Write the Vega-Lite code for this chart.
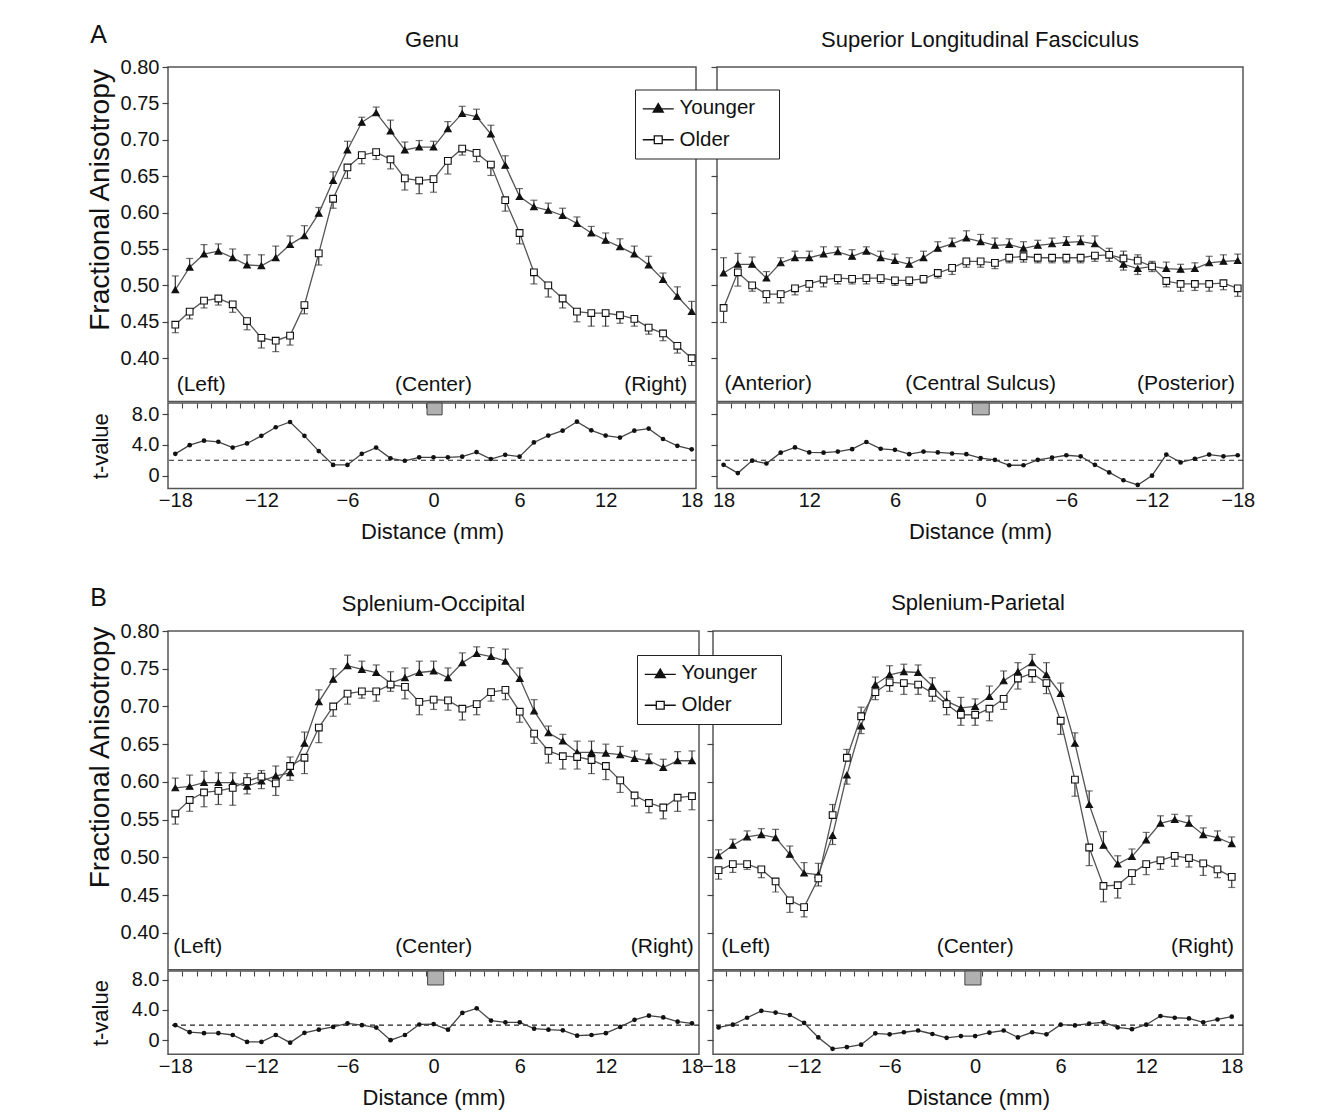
{
"$schema": "https://vega.github.io/schema/vega-lite/v6.json",
"background": "white",
"padding": {"left": 85, "top": 22, "right": 5, "bottom": 5},
"config": {
 "font": "Liberation Sans",
 "view": {"stroke": "#555", "strokeWidth": 1.5},
 "axis": {"domain": false, "grid": false, "labelFont": "Liberation Sans", "labelFontSize": 20, "labelColor": "#111", "titleFont": "Liberation Sans", "titleFontSize": 22, "titleFontWeight": "normal", "titleColor": "#111", "tickColor": "#444", "tickWidth": 1.2, "tickSize": 6, "labelOverlap": false},
 "title": {"font": "Liberation Sans", "fontSize": 22, "fontWeight": "normal", "color": "#111"},
 "legend": {"labelFont": "Liberation Sans"}
},
"datasets": {
"G": [
{"g":"Younger","d":-18,"v":0.494,"e":0.513},{"g":"Younger","d":-17,"v":0.525,"e":0.537},{"g":"Younger","d":-16,"v":0.543,"e":0.556},{"g":"Younger","d":-15,"v":0.547,"e":0.557},{"g":"Younger","d":-14,"v":0.538,"e":0.550},{"g":"Younger","d":-13,"v":0.528,"e":0.542},{"g":"Younger","d":-12,"v":0.527,"e":0.542},{"g":"Younger","d":-11,"v":0.538,"e":0.554},{"g":"Younger","d":-10,"v":0.556,"e":0.568},{"g":"Younger","d":-9,"v":0.568,"e":0.582},{"g":"Younger","d":-8,"v":0.599,"e":0.607},{"g":"Younger","d":-7,"v":0.644,"e":0.656},{"g":"Younger","d":-6,"v":0.686,"e":0.698},{"g":"Younger","d":-5,"v":0.724,"e":0.731},{"g":"Younger","d":-4,"v":0.737,"e":0.745},{"g":"Younger","d":-3,"v":0.712,"e":0.727},{"g":"Younger","d":-2,"v":0.686,"e":0.697},{"g":"Younger","d":-1,"v":0.690,"e":0.699},{"g":"Younger","d":0,"v":0.690,"e":0.698},{"g":"Younger","d":1,"v":0.715,"e":0.725},{"g":"Younger","d":2,"v":0.736,"e":0.746},{"g":"Younger","d":3,"v":0.732,"e":0.742},{"g":"Younger","d":4,"v":0.708,"e":0.720},{"g":"Younger","d":5,"v":0.665,"e":0.678},{"g":"Younger","d":6,"v":0.622,"e":0.633},{"g":"Younger","d":7,"v":0.608,"e":0.617},{"g":"Younger","d":8,"v":0.603,"e":0.613},{"g":"Younger","d":9,"v":0.596,"e":0.606},{"g":"Younger","d":10,"v":0.585,"e":0.594},{"g":"Younger","d":11,"v":0.572,"e":0.581},{"g":"Younger","d":12,"v":0.562,"e":0.572},{"g":"Younger","d":13,"v":0.553,"e":0.564},{"g":"Younger","d":14,"v":0.543,"e":0.554},{"g":"Younger","d":15,"v":0.528,"e":0.540},{"g":"Younger","d":16,"v":0.508,"e":0.517},{"g":"Younger","d":17,"v":0.485,"e":0.498},{"g":"Younger","d":18,"v":0.464,"e":0.478},
{"g":"Older","d":-18,"v":0.446,"e":0.435},{"g":"Older","d":-17,"v":0.464,"e":0.454},{"g":"Older","d":-16,"v":0.479,"e":0.469},{"g":"Older","d":-15,"v":0.482,"e":0.473},{"g":"Older","d":-14,"v":0.474,"e":0.463},{"g":"Older","d":-13,"v":0.451,"e":0.439},{"g":"Older","d":-12,"v":0.428,"e":0.414},{"g":"Older","d":-11,"v":0.424,"e":0.409},{"g":"Older","d":-10,"v":0.431,"e":0.418},{"g":"Older","d":-9,"v":0.473,"e":0.461},{"g":"Older","d":-8,"v":0.544,"e":0.528},{"g":"Older","d":-7,"v":0.619,"e":0.606},{"g":"Older","d":-6,"v":0.662,"e":0.647},{"g":"Older","d":-5,"v":0.679,"e":0.667},{"g":"Older","d":-4,"v":0.683,"e":0.673},{"g":"Older","d":-3,"v":0.673,"e":0.660},{"g":"Older","d":-2,"v":0.647,"e":0.631},{"g":"Older","d":-1,"v":0.644,"e":0.626},{"g":"Older","d":0,"v":0.646,"e":0.628},{"g":"Older","d":1,"v":0.671,"e":0.653},{"g":"Older","d":2,"v":0.688,"e":0.679},{"g":"Older","d":3,"v":0.682,"e":0.670},{"g":"Older","d":4,"v":0.666,"e":0.651},{"g":"Older","d":5,"v":0.617,"e":0.602},{"g":"Older","d":6,"v":0.572,"e":0.557},{"g":"Older","d":7,"v":0.518,"e":0.502},{"g":"Older","d":8,"v":0.500,"e":0.484},{"g":"Older","d":9,"v":0.482,"e":0.469},{"g":"Older","d":10,"v":0.464,"e":0.450},{"g":"Older","d":11,"v":0.462,"e":0.444},{"g":"Older","d":12,"v":0.462,"e":0.444},{"g":"Older","d":13,"v":0.459,"e":0.448},{"g":"Older","d":14,"v":0.454,"e":0.444},{"g":"Older","d":15,"v":0.442,"e":0.433},{"g":"Older","d":16,"v":0.434,"e":0.424},{"g":"Older","d":17,"v":0.417,"e":0.407},{"g":"Older","d":18,"v":0.400,"e":0.390}
],
"S": [
{"g":"Younger","d":18,"v":0.517,"e":0.538},{"g":"Younger","d":17,"v":0.529,"e":0.544},{"g":"Younger","d":16,"v":0.529,"e":0.539},{"g":"Younger","d":15,"v":0.510,"e":0.519},{"g":"Younger","d":14,"v":0.531,"e":0.538},{"g":"Younger","d":13,"v":0.538,"e":0.547},{"g":"Younger","d":12,"v":0.538,"e":0.547},{"g":"Younger","d":11,"v":0.543,"e":0.553},{"g":"Younger","d":10,"v":0.546,"e":0.553},{"g":"Younger","d":9,"v":0.540,"e":0.549},{"g":"Younger","d":8,"v":0.547,"e":0.553},{"g":"Younger","d":7,"v":0.538,"e":0.547},{"g":"Younger","d":6,"v":0.534,"e":0.543},{"g":"Younger","d":5,"v":0.529,"e":0.538},{"g":"Younger","d":4,"v":0.538,"e":0.547},{"g":"Younger","d":3,"v":0.551,"e":0.560},{"g":"Younger","d":2,"v":0.557,"e":0.565},{"g":"Younger","d":1,"v":0.565,"e":0.575},{"g":"Younger","d":0,"v":0.560,"e":0.570},{"g":"Younger","d":-1,"v":0.555,"e":0.565},{"g":"Younger","d":-2,"v":0.556,"e":0.564},{"g":"Younger","d":-3,"v":0.551,"e":0.560},{"g":"Younger","d":-4,"v":0.555,"e":0.562},{"g":"Younger","d":-5,"v":0.557,"e":0.565},{"g":"Younger","d":-6,"v":0.559,"e":0.567},{"g":"Younger","d":-7,"v":0.560,"e":0.568},{"g":"Younger","d":-8,"v":0.557,"e":0.568},{"g":"Younger","d":-9,"v":0.543,"e":0.551},{"g":"Younger","d":-10,"v":0.529,"e":0.521},{"g":"Younger","d":-11,"v":0.523,"e":0.515},{"g":"Younger","d":-12,"v":0.526,"e":0.533},{"g":"Younger","d":-13,"v":0.523,"e":0.532},{"g":"Younger","d":-14,"v":0.522,"e":0.529},{"g":"Younger","d":-15,"v":0.523,"e":0.531},{"g":"Younger","d":-16,"v":0.531,"e":0.540},{"g":"Younger","d":-17,"v":0.533,"e":0.542},{"g":"Younger","d":-18,"v":0.534,"e":0.543},
{"g":"Older","d":18,"v":0.469,"e":0.449},{"g":"Older","d":17,"v":0.518,"e":0.499},{"g":"Older","d":16,"v":0.500,"e":0.492},{"g":"Older","d":15,"v":0.488,"e":0.476},{"g":"Older","d":14,"v":0.488,"e":0.476},{"g":"Older","d":13,"v":0.496,"e":0.487},{"g":"Older","d":12,"v":0.502,"e":0.492},{"g":"Older","d":11,"v":0.508,"e":0.498},{"g":"Older","d":10,"v":0.510,"e":0.502},{"g":"Older","d":9,"v":0.509,"e":0.502},{"g":"Older","d":8,"v":0.510,"e":0.502},{"g":"Older","d":7,"v":0.510,"e":0.503},{"g":"Older","d":6,"v":0.507,"e":0.500},{"g":"Older","d":5,"v":0.507,"e":0.500},{"g":"Older","d":4,"v":0.509,"e":0.503},{"g":"Older","d":3,"v":0.517,"e":0.510},{"g":"Older","d":2,"v":0.524,"e":0.515},{"g":"Older","d":1,"v":0.533,"e":0.525},{"g":"Older","d":0,"v":0.533,"e":0.525},{"g":"Older","d":-1,"v":0.531,"e":0.523},{"g":"Older","d":-2,"v":0.538,"e":0.531},{"g":"Older","d":-3,"v":0.540,"e":0.532},{"g":"Older","d":-4,"v":0.538,"e":0.531},{"g":"Older","d":-5,"v":0.538,"e":0.531},{"g":"Older","d":-6,"v":0.538,"e":0.531},{"g":"Older","d":-7,"v":0.538,"e":0.531},{"g":"Older","d":-8,"v":0.541,"e":0.533},{"g":"Older","d":-9,"v":0.542,"e":0.533},{"g":"Older","d":-10,"v":0.537,"e":0.547},{"g":"Older","d":-11,"v":0.534,"e":0.542},{"g":"Older","d":-12,"v":0.526,"e":0.519},{"g":"Older","d":-13,"v":0.506,"e":0.498},{"g":"Older","d":-14,"v":0.502,"e":0.492},{"g":"Older","d":-15,"v":0.502,"e":0.493},{"g":"Older","d":-16,"v":0.502,"e":0.492},{"g":"Older","d":-17,"v":0.503,"e":0.494},{"g":"Older","d":-18,"v":0.496,"e":0.485}
],
"O": [
{"g":"Younger","d":-18,"v":0.592,"e":0.605},{"g":"Younger","d":-17,"v":0.594,"e":0.609},{"g":"Younger","d":-16,"v":0.599,"e":0.614},{"g":"Younger","d":-15,"v":0.599,"e":0.612},{"g":"Younger","d":-14,"v":0.599,"e":0.612},{"g":"Younger","d":-13,"v":0.594,"e":0.584},{"g":"Younger","d":-12,"v":0.601,"e":0.591},{"g":"Younger","d":-11,"v":0.608,"e":0.621},{"g":"Younger","d":-10,"v":0.612,"e":0.602},{"g":"Younger","d":-9,"v":0.651,"e":0.666},{"g":"Younger","d":-8,"v":0.706,"e":0.722},{"g":"Younger","d":-7,"v":0.736,"e":0.750},{"g":"Younger","d":-6,"v":0.754,"e":0.768},{"g":"Younger","d":-5,"v":0.749,"e":0.760},{"g":"Younger","d":-4,"v":0.745,"e":0.755},{"g":"Younger","d":-3,"v":0.731,"e":0.746},{"g":"Younger","d":-2,"v":0.738,"e":0.751},{"g":"Younger","d":-1,"v":0.745,"e":0.760},{"g":"Younger","d":0,"v":0.747,"e":0.760},{"g":"Younger","d":1,"v":0.738,"e":0.751},{"g":"Younger","d":2,"v":0.758,"e":0.771},{"g":"Younger","d":3,"v":0.770,"e":0.779},{"g":"Younger","d":4,"v":0.766,"e":0.778},{"g":"Younger","d":5,"v":0.760,"e":0.776},{"g":"Younger","d":6,"v":0.737,"e":0.751},{"g":"Younger","d":7,"v":0.694,"e":0.709},{"g":"Younger","d":8,"v":0.665,"e":0.674},{"g":"Younger","d":9,"v":0.654,"e":0.663},{"g":"Younger","d":10,"v":0.639,"e":0.654},{"g":"Younger","d":11,"v":0.639,"e":0.654},{"g":"Younger","d":12,"v":0.638,"e":0.650},{"g":"Younger","d":13,"v":0.636,"e":0.647},{"g":"Younger","d":14,"v":0.631,"e":0.641},{"g":"Younger","d":15,"v":0.628,"e":0.637},{"g":"Younger","d":16,"v":0.619,"e":0.630},{"g":"Younger","d":17,"v":0.628,"e":0.640},{"g":"Younger","d":18,"v":0.628,"e":0.641},
{"g":"Older","d":-18,"v":0.558,"e":0.544},{"g":"Older","d":-17,"v":0.576,"e":0.561},{"g":"Older","d":-16,"v":0.586,"e":0.567},{"g":"Older","d":-15,"v":0.588,"e":0.570},{"g":"Older","d":-14,"v":0.592,"e":0.569},{"g":"Older","d":-13,"v":0.601,"e":0.611},{"g":"Older","d":-12,"v":0.607,"e":0.615},{"g":"Older","d":-11,"v":0.598,"e":0.582},{"g":"Older","d":-10,"v":0.621,"e":0.633},{"g":"Older","d":-9,"v":0.632,"e":0.611},{"g":"Older","d":-8,"v":0.672,"e":0.652},{"g":"Older","d":-7,"v":0.700,"e":0.687},{"g":"Older","d":-6,"v":0.717,"e":0.703},{"g":"Older","d":-5,"v":0.720,"e":0.711},{"g":"Older","d":-4,"v":0.720,"e":0.707},{"g":"Older","d":-3,"v":0.729,"e":0.720},{"g":"Older","d":-2,"v":0.726,"e":0.710},{"g":"Older","d":-1,"v":0.706,"e":0.689},{"g":"Older","d":0,"v":0.709,"e":0.696},{"g":"Older","d":1,"v":0.708,"e":0.695},{"g":"Older","d":2,"v":0.697,"e":0.682},{"g":"Older","d":3,"v":0.703,"e":0.689},{"g":"Older","d":4,"v":0.719,"e":0.707},{"g":"Older","d":5,"v":0.722,"e":0.709},{"g":"Older","d":6,"v":0.693,"e":0.679},{"g":"Older","d":7,"v":0.664,"e":0.651},{"g":"Older","d":8,"v":0.641,"e":0.625},{"g":"Older","d":9,"v":0.634,"e":0.617},{"g":"Older","d":10,"v":0.633,"e":0.617},{"g":"Older","d":11,"v":0.629,"e":0.611},{"g":"Older","d":12,"v":0.621,"e":0.603},{"g":"Older","d":13,"v":0.602,"e":0.586},{"g":"Older","d":14,"v":0.582,"e":0.568},{"g":"Older","d":15,"v":0.572,"e":0.559},{"g":"Older","d":16,"v":0.566,"e":0.551},{"g":"Older","d":17,"v":0.579,"e":0.561},{"g":"Older","d":18,"v":0.581,"e":0.563}
],
"P": [
{"g":"Younger","d":-18,"v":0.502,"e":0.510},{"g":"Younger","d":-17,"v":0.516,"e":0.524},{"g":"Younger","d":-16,"v":0.527,"e":0.535},{"g":"Younger","d":-15,"v":0.530,"e":0.538},{"g":"Younger","d":-14,"v":0.526,"e":0.537},{"g":"Younger","d":-13,"v":0.504,"e":0.515},{"g":"Younger","d":-12,"v":0.479,"e":0.493},{"g":"Younger","d":-11,"v":0.477,"e":0.492},{"g":"Younger","d":-10,"v":0.529,"e":0.517},{"g":"Younger","d":-9,"v":0.609,"e":0.597},{"g":"Younger","d":-8,"v":0.674,"e":0.664},{"g":"Younger","d":-7,"v":0.729,"e":0.739},{"g":"Younger","d":-6,"v":0.742,"e":0.754},{"g":"Younger","d":-5,"v":0.746,"e":0.756},{"g":"Younger","d":-4,"v":0.745,"e":0.755},{"g":"Younger","d":-3,"v":0.727,"e":0.738},{"g":"Younger","d":-2,"v":0.707,"e":0.720},{"g":"Younger","d":-1,"v":0.698,"e":0.712},{"g":"Younger","d":0,"v":0.700,"e":0.710},{"g":"Younger","d":1,"v":0.713,"e":0.727},{"g":"Younger","d":2,"v":0.734,"e":0.747},{"g":"Younger","d":3,"v":0.746,"e":0.758},{"g":"Younger","d":4,"v":0.758,"e":0.769},{"g":"Younger","d":5,"v":0.742,"e":0.758},{"g":"Younger","d":6,"v":0.717,"e":0.731},{"g":"Younger","d":7,"v":0.651,"e":0.665},{"g":"Younger","d":8,"v":0.570,"e":0.588},{"g":"Younger","d":9,"v":0.516,"e":0.534},{"g":"Younger","d":10,"v":0.491,"e":0.502},{"g":"Younger","d":11,"v":0.501,"e":0.511},{"g":"Younger","d":12,"v":0.523,"e":0.533},{"g":"Younger","d":13,"v":0.545,"e":0.555},{"g":"Younger","d":14,"v":0.550,"e":0.557},{"g":"Younger","d":15,"v":0.545,"e":0.555},{"g":"Younger","d":16,"v":0.530,"e":0.539},{"g":"Younger","d":17,"v":0.526,"e":0.535},{"g":"Younger","d":18,"v":0.518,"e":0.527},
{"g":"Older","d":-18,"v":0.483,"e":0.471},{"g":"Older","d":-17,"v":0.491,"e":0.480},{"g":"Older","d":-16,"v":0.491,"e":0.484},{"g":"Older","d":-15,"v":0.484,"e":0.473},{"g":"Older","d":-14,"v":0.468,"e":0.454},{"g":"Older","d":-13,"v":0.443,"e":0.427},{"g":"Older","d":-12,"v":0.434,"e":0.421},{"g":"Older","d":-11,"v":0.472,"e":0.462},{"g":"Older","d":-10,"v":0.556,"e":0.570},{"g":"Older","d":-9,"v":0.632,"e":0.643},{"g":"Older","d":-8,"v":0.687,"e":0.699},{"g":"Older","d":-7,"v":0.719,"e":0.709},{"g":"Older","d":-6,"v":0.732,"e":0.720},{"g":"Older","d":-5,"v":0.731,"e":0.716},{"g":"Older","d":-4,"v":0.729,"e":0.716},{"g":"Older","d":-3,"v":0.718,"e":0.707},{"g":"Older","d":-2,"v":0.703,"e":0.689},{"g":"Older","d":-1,"v":0.689,"e":0.675},{"g":"Older","d":0,"v":0.689,"e":0.675},{"g":"Older","d":1,"v":0.697,"e":0.681},{"g":"Older","d":2,"v":0.710,"e":0.696},{"g":"Older","d":3,"v":0.737,"e":0.723},{"g":"Older","d":4,"v":0.744,"e":0.732},{"g":"Older","d":5,"v":0.731,"e":0.717},{"g":"Older","d":6,"v":0.681,"e":0.663},{"g":"Older","d":7,"v":0.603,"e":0.581},{"g":"Older","d":8,"v":0.513,"e":0.489},{"g":"Older","d":9,"v":0.462,"e":0.441},{"g":"Older","d":10,"v":0.463,"e":0.446},{"g":"Older","d":11,"v":0.479,"e":0.464},{"g":"Older","d":12,"v":0.491,"e":0.477},{"g":"Older","d":13,"v":0.496,"e":0.484},{"g":"Older","d":14,"v":0.502,"e":0.488},{"g":"Older","d":15,"v":0.499,"e":0.487},{"g":"Older","d":16,"v":0.492,"e":0.476},{"g":"Older","d":17,"v":0.484,"e":0.473},{"g":"Older","d":18,"v":0.474,"e":0.460}
],
"tG": [{"d":-18,"t":2.83},{"d":-17,"t":3.96},{"d":-16,"t":4.54},{"d":-15,"t":4.40},{"d":-14,"t":3.64},{"d":-13,"t":4.18},{"d":-12,"t":5.17},{"d":-11,"t":6.29},{"d":-10,"t":6.97},{"d":-9,"t":5.17},{"d":-8,"t":3.19},{"d":-7,"t":1.39},{"d":-6,"t":1.39},{"d":-5,"t":2.83},{"d":-4,"t":3.64},{"d":-3,"t":2.25},{"d":-2,"t":1.93},{"d":-1,"t":2.38},{"d":0,"t":2.38},{"d":1,"t":2.38},{"d":2,"t":2.47},{"d":3,"t":3.06},{"d":4,"t":2.16},{"d":5,"t":2.70},{"d":6,"t":2.47},{"d":7,"t":4.31},{"d":8,"t":5.21},{"d":9,"t":5.84},{"d":10,"t":7.01},{"d":11,"t":5.89},{"d":12,"t":5.21},{"d":13,"t":4.94},{"d":14,"t":5.84},{"d":15,"t":6.11},{"d":16,"t":4.76},{"d":17,"t":3.87},{"d":18,"t":3.42}],
"tS": [{"d":18,"t":1.40},{"d":17,"t":0.33},{"d":16,"t":1.95},{"d":15,"t":1.58},{"d":14,"t":2.98},{"d":13,"t":3.67},{"d":12,"t":3.02},{"d":11,"t":2.98},{"d":10,"t":3.12},{"d":9,"t":3.44},{"d":8,"t":4.37},{"d":7,"t":3.49},{"d":6,"t":3.35},{"d":5,"t":2.79},{"d":4,"t":3.12},{"d":3,"t":3.02},{"d":2,"t":2.88},{"d":1,"t":2.79},{"d":0,"t":2.28},{"d":-1,"t":2.05},{"d":-2,"t":1.35},{"d":-3,"t":1.35},{"d":-4,"t":2.05},{"d":-5,"t":2.33},{"d":-6,"t":2.65},{"d":-7,"t":2.51},{"d":-8,"t":1.40},{"d":-9,"t":0.42},{"d":-10,"t":-0.60},{"d":-11,"t":-1.21},{"d":-12,"t":0.0},{"d":-13,"t":2.74},{"d":-14,"t":1.72},{"d":-15,"t":2.19},{"d":-16,"t":2.74},{"d":-17,"t":2.51},{"d":-18,"t":2.65}],
"tO": [{"d":-18,"t":1.99},{"d":-17,"t":1.06},{"d":-16,"t":0.93},{"d":-15,"t":0.93},{"d":-14,"t":0.69},{"d":-13,"t":-0.23},{"d":-12,"t":-0.23},{"d":-11,"t":0.69},{"d":-10,"t":-0.32},{"d":-9,"t":0.97},{"d":-8,"t":1.39},{"d":-7,"t":1.76},{"d":-6,"t":2.22},{"d":-5,"t":1.99},{"d":-4,"t":1.67},{"d":-3,"t":0.0},{"d":-2,"t":0.69},{"d":-1,"t":2.08},{"d":0,"t":2.13},{"d":1,"t":1.39},{"d":2,"t":3.61},{"d":3,"t":4.21},{"d":4,"t":2.59},{"d":5,"t":2.36},{"d":6,"t":2.36},{"d":7,"t":1.53},{"d":8,"t":1.39},{"d":9,"t":1.30},{"d":10,"t":0.60},{"d":11,"t":0.69},{"d":12,"t":0.93},{"d":13,"t":1.76},{"d":14,"t":2.69},{"d":15,"t":3.24},{"d":16,"t":3.01},{"d":17,"t":2.45},{"d":18,"t":2.22}],
"tP": [{"d":-18,"t":1.69},{"d":-17,"t":2.05},{"d":-16,"t":2.97},{"d":-15,"t":3.88},{"d":-14,"t":3.65},{"d":-13,"t":3.33},{"d":-12,"t":2.28},{"d":-11,"t":0.37},{"d":-10,"t":-1.14},{"d":-9,"t":-0.91},{"d":-8,"t":-0.59},{"d":-7,"t":0.91},{"d":-6,"t":0.78},{"d":-5,"t":1.05},{"d":-4,"t":1.28},{"d":-3,"t":0.82},{"d":-2,"t":0.32},{"d":-1,"t":0.55},{"d":0,"t":0.55},{"d":1,"t":1.00},{"d":2,"t":1.28},{"d":3,"t":0.37},{"d":4,"t":1.05},{"d":5,"t":0.78},{"d":6,"t":2.05},{"d":7,"t":1.96},{"d":8,"t":2.19},{"d":9,"t":2.37},{"d":10,"t":1.69},{"d":11,"t":1.46},{"d":12,"t":2.05},{"d":13,"t":3.20},{"d":14,"t":2.97},{"d":15,"t":2.88},{"d":16,"t":2.37},{"d":17,"t":2.74},{"d":18,"t":3.11}]
},
"spacing": 42,
"resolve": {"scale": {"shape": "independent"}, "legend": {"shape": "independent"}},
"vconcat": [
{
 "title": {"text": "A", "anchor": "start", "fontSize": 25, "offset": -20, "dx": 5},
 "spacing": 5,
 "hconcat": [
  {"spacing": -5, "vconcat": [
   {"width": 528, "height": 334.5, "title": {"text": "Genu", "offset": 5.5}, "data": {"name": "G"},
    "layer": [
     {"mark": {"type": "rule", "color": "#333", "strokeWidth": 1.2},
      "encoding": {"x": {"field": "d", "type": "quantitative", "scale": {"domain": [-18.51, 18.3], "nice": false, "zero": false}, "axis": null},
       "y": {"field": "v", "type": "quantitative", "scale": {"domain": [0.3405, 0.8], "nice": false, "zero": false}, "axis": {"values": [0.4,0.45,0.5,0.55,0.6,0.65,0.7,0.75,0.8], "format": ".2f", "title": "Fractional Anisotropy", "titleFontSize": 28, "titleX": -68, "titleY": 132.5, "titleBaseline": "middle", "labelPadding": 3}},
       "y2": {"field": "e"}}},
     {"mark": {"type": "tick", "orient": "horizontal", "size": 7, "thickness": 1.2, "color": "#333"},
      "encoding": {"x": {"field": "d", "type": "quantitative", "scale": {"domain": [-18.51, 18.3], "nice": false, "zero": false}, "axis": null},
       "y": {"field": "e", "type": "quantitative", "scale": {"domain": [0.3405, 0.8], "nice": false, "zero": false}}}},
     {"mark": {"type": "line", "color": "#555", "strokeWidth": 1.3},
      "encoding": {"x": {"field": "d", "type": "quantitative", "scale": {"domain": [-18.51, 18.3], "nice": false, "zero": false}, "axis": null},
       "y": {"field": "v", "type": "quantitative", "scale": {"domain": [0.3405, 0.8], "nice": false, "zero": false}}, "detail": {"field": "g"}}},
     {"mark": {"type": "point", "filled": true, "stroke": "#111", "strokeWidth": 1.1, "size": 45, "opacity": 1},
      "encoding": {"x": {"field": "d", "type": "quantitative", "scale": {"domain": [-18.51, 18.3], "nice": false, "zero": false}, "axis": null},
       "y": {"field": "v", "type": "quantitative", "scale": {"domain": [0.3405, 0.8], "nice": false, "zero": false}},
       "shape": {"condition": {"test": "datum.g === 'Younger'", "value": "triangle-up"}, "value": "square"},
       "fill": {"condition": {"test": "datum.g === 'Younger'", "value": "#111"}, "value": "white"}}},
     {"mark": {"type": "point", "filled": true, "color": "#111", "opacity": 0},
      "encoding": {"x": {"field": "d", "type": "quantitative", "scale": {"domain": [-18.51, 18.3], "nice": false, "zero": false}, "axis": null},
       "y": {"field": "v", "type": "quantitative", "scale": {"domain": [0.3405, 0.8], "nice": false, "zero": false}},
       "shape": {"field": "g", "type": "nominal", "scale": {"domain": ["Younger", "Older"], "range": ["M-1.55,0.04H1.55V0.17H-1.55Z M0,-0.55L0.62,0.5L-0.62,0.5Z", "M-1.55,-0.065H-0.45V0.065H-1.55Z M0.45,-0.065H1.55V0.065H0.45Z M-0.46,-0.46H0.46V0.46H-0.46Z M-0.33,-0.33V0.33H0.33V-0.33Z"]},
        "legend": {"orient": "none", "legendX": 467, "legendY": 22.5, "title": null, "padding": 8, "rowPadding": 11, "strokeColor": "#222", "fillColor": "white", "labelFontSize": 20.5, "labelColor": "#111", "symbolSize": 400, "symbolOffset": 5, "labelOffset": 11, "symbolOpacity": 1, "symbolFillColor": "#111", "symbolStrokeWidth": 0, "labelExpr": "datum.label + '\u2800'"}}}},
     {"data": {"values": [{"d": -16.2, "y": 0.3625, "txt": "(Left)"}, {"d": 0, "y": 0.3625, "txt": "(Center)"}, {"d": 15.5, "y": 0.3625, "txt": "(Right)"}]},
      "mark": {"type": "text", "fontSize": 21, "color": "#111", "baseline": "middle"},
      "encoding": {"x": {"field": "d", "type": "quantitative", "scale": {"domain": [-18.51, 18.3], "nice": false, "zero": false}, "axis": null},
       "y": {"field": "y", "type": "quantitative", "scale": {"domain": [0.3405, 0.8], "nice": false, "zero": false}}, "text": {"field": "txt"}}}
    ]},
   {"width": 528, "height": 85.4, "resolve": {"axis": {"x": "independent"}},
    "layer": [
     {"data": {"values": [{"x1": -0.45, "x2": 0.6, "y1": 7.9, "y2": 9.44}]},
      "mark": {"type": "rect", "fill": "#b0b0b0", "stroke": "#444", "strokeWidth": 1},
      "encoding": {"x": {"field": "x1", "type": "quantitative", "scale": {"domain": [-18.51, 18.3], "nice": false, "zero": false}, "axis": {"orient": "top", "values": [-17.5,-16.5,-15.5,-14.5,-13.5,-12.5,-11.5,-10.5,-9.5,-8.5,-7.5,-6.5,-5.5,-4.5,-3.5,-2.5,-1.5,-0.5,0.5,1.5,2.5,3.5,4.5,5.5,6.5,7.5,8.5,9.5,10.5,11.5,12.5,13.5,14.5,15.5,16.5,17.5], "labels": false, "domain": false, "tickSize": -5, "tickWidth": 1.1, "title": null}},
       "x2": {"field": "x2"},
       "y": {"field": "y1", "type": "quantitative", "scale": {"domain": [-1.66, 9.44], "nice": false, "zero": false}, "axis": {"values": [0,2,4,6,8], "labelExpr": "datum.value === 8 ? '8.0' : datum.value === 4 ? '4.0' : datum.value === 0 ? '0' : ''", "title": "t-value", "titleX": -68, "titleBaseline": "middle", "labelPadding": 3}},
       "y2": {"field": "y2"}}},
     {"data": {"values": [{"t": 2}]}, "mark": {"type": "rule", "strokeDash": [5, 4], "color": "#222", "strokeWidth": 1.1},
      "encoding": {"y": {"field": "t", "type": "quantitative", "scale": {"domain": [-1.66, 9.44], "nice": false, "zero": false}}}},
     {"data": {"name": "tG"}, "mark": {"type": "line", "color": "#444", "strokeWidth": 1.3},
      "encoding": {"x": {"field": "d", "type": "quantitative", "scale": {"domain": [-18.51, 18.3], "nice": false, "zero": false}, "axis": null},
       "y": {"field": "t", "type": "quantitative", "scale": {"domain": [-1.66, 9.44], "nice": false, "zero": false}}}},
     {"data": {"name": "tG"}, "mark": {"type": "point", "filled": true, "color": "#111", "size": 22, "opacity": 1},
      "encoding": {"x": {"field": "d", "type": "quantitative", "scale": {"domain": [-18.51, 18.3], "nice": false, "zero": false}, "axis": {"orient": "bottom", "values": [-18,-12,-6,0,6,12,18], "ticks": false, "labelPadding": 2, "labelFlush": false, "title": "Distance (mm)", "titlePadding": 11}},
       "y": {"field": "t", "type": "quantitative", "scale": {"domain": [-1.66, 9.44], "nice": false, "zero": false}}}}
    ]}
  ]},
  {"spacing": -5, "vconcat": [
   {"width": 526, "height": 334.5, "title": {"text": "Superior Longitudinal Fasciculus", "offset": 14.5}, "data": {"name": "S"},
    "layer": [
     {"mark": {"type": "rule", "color": "#333", "strokeWidth": 1.2},
      "encoding": {"x": {"field": "d", "type": "quantitative", "scale": {"domain": [-18.37, 18.46], "reverse": true, "nice": false, "zero": false}, "axis": null},
       "y": {"field": "v", "type": "quantitative", "scale": {"domain": [0.3405, 0.8], "nice": false, "zero": false}, "axis": {"values": [0.4,0.45,0.5,0.55,0.6,0.65,0.7,0.75,0.8], "labels": false, "title": null}},
       "y2": {"field": "e"}}},
     {"mark": {"type": "tick", "orient": "horizontal", "size": 7, "thickness": 1.2, "color": "#333"},
      "encoding": {"x": {"field": "d", "type": "quantitative", "scale": {"domain": [-18.37, 18.46], "reverse": true, "nice": false, "zero": false}, "axis": null},
       "y": {"field": "e", "type": "quantitative", "scale": {"domain": [0.3405, 0.8], "nice": false, "zero": false}}}},
     {"mark": {"type": "line", "color": "#555", "strokeWidth": 1.3},
      "encoding": {"x": {"field": "d", "type": "quantitative", "scale": {"domain": [-18.37, 18.46], "reverse": true, "nice": false, "zero": false}, "axis": null},
       "y": {"field": "v", "type": "quantitative", "scale": {"domain": [0.3405, 0.8], "nice": false, "zero": false}}, "detail": {"field": "g"}}},
     {"mark": {"type": "point", "filled": true, "stroke": "#111", "strokeWidth": 1.1, "size": 45, "opacity": 1},
      "encoding": {"x": {"field": "d", "type": "quantitative", "scale": {"domain": [-18.37, 18.46], "reverse": true, "nice": false, "zero": false}, "axis": null},
       "y": {"field": "v", "type": "quantitative", "scale": {"domain": [0.3405, 0.8], "nice": false, "zero": false}},
       "shape": {"condition": {"test": "datum.g === 'Younger'", "value": "triangle-up"}, "value": "square"},
       "fill": {"condition": {"test": "datum.g === 'Younger'", "value": "#111"}, "value": "white"}}},
     {"data": {"values": [{"d": 14.87, "y": 0.3639, "txt": "(Anterior)"}, {"d": 0, "y": 0.3639, "txt": "(Central Sulcus)"}, {"d": -14.38, "y": 0.3639, "txt": "(Posterior)"}]},
      "mark": {"type": "text", "fontSize": 21, "color": "#111", "baseline": "middle"},
      "encoding": {"x": {"field": "d", "type": "quantitative", "scale": {"domain": [-18.37, 18.46], "reverse": true, "nice": false, "zero": false}, "axis": null},
       "y": {"field": "y", "type": "quantitative", "scale": {"domain": [0.3405, 0.8], "nice": false, "zero": false}}, "text": {"field": "txt"}}}
    ]},
   {"width": 526, "height": 85.4, "resolve": {"axis": {"x": "independent"}},
    "layer": [
     {"data": {"values": [{"x1": -0.6, "x2": 0.58, "y1": 7.9, "y2": 9.44}]},
      "mark": {"type": "rect", "fill": "#b0b0b0", "stroke": "#444", "strokeWidth": 1},
      "encoding": {"x": {"field": "x1", "type": "quantitative", "scale": {"domain": [-18.37, 18.46], "reverse": true, "nice": false, "zero": false}, "axis": {"orient": "top", "values": [-17.5,-16.5,-15.5,-14.5,-13.5,-12.5,-11.5,-10.5,-9.5,-8.5,-7.5,-6.5,-5.5,-4.5,-3.5,-2.5,-1.5,-0.5,0.5,1.5,2.5,3.5,4.5,5.5,6.5,7.5,8.5,9.5,10.5,11.5,12.5,13.5,14.5,15.5,16.5,17.5], "labels": false, "domain": false, "tickSize": -5, "tickWidth": 1.1, "title": null}},
       "x2": {"field": "x2"},
       "y": {"field": "y1", "type": "quantitative", "scale": {"domain": [-1.66, 9.44], "nice": false, "zero": false}, "axis": {"values": [0,2,4,6,8], "labels": false, "title": null}},
       "y2": {"field": "y2"}}},
     {"data": {"values": [{"t": 2}]}, "mark": {"type": "rule", "strokeDash": [5, 4], "color": "#222", "strokeWidth": 1.1},
      "encoding": {"y": {"field": "t", "type": "quantitative", "scale": {"domain": [-1.66, 9.44], "nice": false, "zero": false}}}},
     {"data": {"name": "tS"}, "mark": {"type": "line", "color": "#444", "strokeWidth": 1.3},
      "encoding": {"x": {"field": "d", "type": "quantitative", "scale": {"domain": [-18.37, 18.46], "reverse": true, "nice": false, "zero": false}, "axis": null},
       "y": {"field": "t", "type": "quantitative", "scale": {"domain": [-1.66, 9.44], "nice": false, "zero": false}}}},
     {"data": {"name": "tS"}, "mark": {"type": "point", "filled": true, "color": "#111", "size": 22, "opacity": 1},
      "encoding": {"x": {"field": "d", "type": "quantitative", "scale": {"domain": [-18.37, 18.46], "reverse": true, "nice": false, "zero": false}, "axis": {"orient": "bottom", "values": [-18,-12,-6,0,6,12,18], "ticks": false, "labelPadding": 2, "labelFlush": false, "title": "Distance (mm)", "titlePadding": 11}},
       "y": {"field": "t", "type": "quantitative", "scale": {"domain": [-1.66, 9.44], "nice": false, "zero": false}}}}
    ]}
  ]}
 ]
},
{
 "title": {"text": "B", "anchor": "start", "fontSize": 25, "offset": -20, "dx": 5},
 "spacing": -4,
 "hconcat": [
  {"spacing": -5, "vconcat": [
   {"width": 531, "height": 338.7, "title": {"text": "Splenium-Occipital", "offset": 5.5}, "data": {"name": "O"},
    "layer": [
     {"mark": {"type": "rule", "color": "#333", "strokeWidth": 1.2},
      "encoding": {"x": {"field": "d", "type": "quantitative", "scale": {"domain": [-18.51, 18.49], "nice": false, "zero": false}, "axis": null},
       "y": {"field": "v", "type": "quantitative", "scale": {"domain": [0.351, 0.8], "nice": false, "zero": false}, "axis": {"values": [0.4,0.45,0.5,0.55,0.6,0.65,0.7,0.75,0.8], "format": ".2f", "title": "Fractional Anisotropy", "titleFontSize": 28, "titleX": -68, "titleY": 126, "titleBaseline": "middle", "labelPadding": 3}},
       "y2": {"field": "e"}}},
     {"mark": {"type": "tick", "orient": "horizontal", "size": 7, "thickness": 1.2, "color": "#333"},
      "encoding": {"x": {"field": "d", "type": "quantitative", "scale": {"domain": [-18.51, 18.49], "nice": false, "zero": false}, "axis": null},
       "y": {"field": "e", "type": "quantitative", "scale": {"domain": [0.351, 0.8], "nice": false, "zero": false}}}},
     {"mark": {"type": "line", "color": "#555", "strokeWidth": 1.3},
      "encoding": {"x": {"field": "d", "type": "quantitative", "scale": {"domain": [-18.51, 18.49], "nice": false, "zero": false}, "axis": null},
       "y": {"field": "v", "type": "quantitative", "scale": {"domain": [0.351, 0.8], "nice": false, "zero": false}}, "detail": {"field": "g"}}},
     {"mark": {"type": "point", "filled": true, "stroke": "#111", "strokeWidth": 1.1, "size": 45, "opacity": 1},
      "encoding": {"x": {"field": "d", "type": "quantitative", "scale": {"domain": [-18.51, 18.49], "nice": false, "zero": false}, "axis": null},
       "y": {"field": "v", "type": "quantitative", "scale": {"domain": [0.351, 0.8], "nice": false, "zero": false}},
       "shape": {"condition": {"test": "datum.g === 'Younger'", "value": "triangle-up"}, "value": "square"},
       "fill": {"condition": {"test": "datum.g === 'Younger'", "value": "#111"}, "value": "white"}}},
     {"mark": {"type": "point", "filled": true, "color": "#111", "opacity": 0},
      "encoding": {"x": {"field": "d", "type": "quantitative", "scale": {"domain": [-18.51, 18.49], "nice": false, "zero": false}, "axis": null},
       "y": {"field": "v", "type": "quantitative", "scale": {"domain": [0.351, 0.8], "nice": false, "zero": false}},
       "shape": {"field": "g", "type": "nominal", "scale": {"domain": ["Younger", "Older"], "range": ["M-1.55,0.04H1.55V0.17H-1.55Z M0,-0.55L0.62,0.5L-0.62,0.5Z", "M-1.55,-0.065H-0.45V0.065H-1.55Z M0.45,-0.065H1.55V0.065H0.45Z M-0.46,-0.46H0.46V0.46H-0.46Z M-0.33,-0.33V0.33H0.33V-0.33Z"]},
        "legend": {"orient": "none", "legendX": 469, "legendY": 24, "title": null, "padding": 8, "rowPadding": 11, "strokeColor": "#222", "fillColor": "white", "labelFontSize": 20.5, "labelColor": "#111", "symbolSize": 400, "symbolOffset": 5, "labelOffset": 11, "symbolOpacity": 1, "symbolFillColor": "#111", "symbolStrokeWidth": 0, "labelExpr": "datum.label + '\u2800'"}}}},
     {"data": {"values": [{"d": -16.43, "y": 0.3805, "txt": "(Left)"}, {"d": 0, "y": 0.3805, "txt": "(Center)"}, {"d": 15.93, "y": 0.3805, "txt": "(Right)"}]},
      "mark": {"type": "text", "fontSize": 21, "color": "#111", "baseline": "middle"},
      "encoding": {"x": {"field": "d", "type": "quantitative", "scale": {"domain": [-18.51, 18.49], "nice": false, "zero": false}, "axis": null},
       "y": {"field": "y", "type": "quantitative", "scale": {"domain": [0.351, 0.8], "nice": false, "zero": false}}, "text": {"field": "txt"}}}
    ]},
   {"width": 531, "height": 83.2, "resolve": {"axis": {"x": "independent"}},
    "layer": [
     {"data": {"values": [{"x1": -0.42, "x2": 0.7, "y1": 7.3, "y2": 9.15}]},
      "mark": {"type": "rect", "fill": "#b0b0b0", "stroke": "#444", "strokeWidth": 1},
      "encoding": {"x": {"field": "x1", "type": "quantitative", "scale": {"domain": [-18.51, 18.49], "nice": false, "zero": false}, "axis": {"orient": "top", "values": [-17.5,-16.5,-15.5,-14.5,-13.5,-12.5,-11.5,-10.5,-9.5,-8.5,-7.5,-6.5,-5.5,-4.5,-3.5,-2.5,-1.5,-0.5,0.5,1.5,2.5,3.5,4.5,5.5,6.5,7.5,8.5,9.5,10.5,11.5,12.5,13.5,14.5,15.5,16.5,17.5], "labels": false, "domain": false, "tickSize": -5, "tickWidth": 1.1, "title": null}},
       "x2": {"field": "x2"},
       "y": {"field": "y1", "type": "quantitative", "scale": {"domain": [-1.85, 9.15], "nice": false, "zero": false}, "axis": {"values": [0,2,4,6,8], "labelExpr": "datum.value === 8 ? '8.0' : datum.value === 4 ? '4.0' : datum.value === 0 ? '0' : ''", "title": "t-value", "titleX": -68, "titleBaseline": "middle", "labelPadding": 3}},
       "y2": {"field": "y2"}}},
     {"data": {"values": [{"t": 2}]}, "mark": {"type": "rule", "strokeDash": [5, 4], "color": "#222", "strokeWidth": 1.1},
      "encoding": {"y": {"field": "t", "type": "quantitative", "scale": {"domain": [-1.85, 9.15], "nice": false, "zero": false}}}},
     {"data": {"name": "tO"}, "mark": {"type": "line", "color": "#444", "strokeWidth": 1.3},
      "encoding": {"x": {"field": "d", "type": "quantitative", "scale": {"domain": [-18.51, 18.49], "nice": false, "zero": false}, "axis": null},
       "y": {"field": "t", "type": "quantitative", "scale": {"domain": [-1.85, 9.15], "nice": false, "zero": false}}}},
     {"data": {"name": "tO"}, "mark": {"type": "point", "filled": true, "color": "#111", "size": 22, "opacity": 1},
      "encoding": {"x": {"field": "d", "type": "quantitative", "scale": {"domain": [-18.51, 18.49], "nice": false, "zero": false}, "axis": {"orient": "bottom", "values": [-18,-12,-6,0,6,12,18], "ticks": false, "labelPadding": 2, "labelFlush": false, "title": "Distance (mm)", "titlePadding": 11}},
       "y": {"field": "t", "type": "quantitative", "scale": {"domain": [-1.85, 9.15], "nice": false, "zero": false}}}}
    ]}
  ]},
  {"spacing": -5, "vconcat": [
   {"width": 530, "height": 338.7, "title": {"text": "Splenium-Parietal", "offset": 15.5}, "data": {"name": "P"},
    "layer": [
     {"mark": {"type": "rule", "color": "#333", "strokeWidth": 1.2},
      "encoding": {"x": {"field": "d", "type": "quantitative", "scale": {"domain": [-18.39, 18.79], "nice": false, "zero": false}, "axis": null},
       "y": {"field": "v", "type": "quantitative", "scale": {"domain": [0.351, 0.8], "nice": false, "zero": false}, "axis": {"values": [0.4,0.45,0.5,0.55,0.6,0.65,0.7,0.75,0.8], "labels": false, "title": null}},
       "y2": {"field": "e"}}},
     {"mark": {"type": "tick", "orient": "horizontal", "size": 7, "thickness": 1.2, "color": "#333"},
      "encoding": {"x": {"field": "d", "type": "quantitative", "scale": {"domain": [-18.39, 18.79], "nice": false, "zero": false}, "axis": null},
       "y": {"field": "e", "type": "quantitative", "scale": {"domain": [0.351, 0.8], "nice": false, "zero": false}}}},
     {"mark": {"type": "line", "color": "#555", "strokeWidth": 1.3},
      "encoding": {"x": {"field": "d", "type": "quantitative", "scale": {"domain": [-18.39, 18.79], "nice": false, "zero": false}, "axis": null},
       "y": {"field": "v", "type": "quantitative", "scale": {"domain": [0.351, 0.8], "nice": false, "zero": false}}, "detail": {"field": "g"}}},
     {"mark": {"type": "point", "filled": true, "stroke": "#111", "strokeWidth": 1.1, "size": 45, "opacity": 1},
      "encoding": {"x": {"field": "d", "type": "quantitative", "scale": {"domain": [-18.39, 18.79], "nice": false, "zero": false}, "axis": null},
       "y": {"field": "v", "type": "quantitative", "scale": {"domain": [0.351, 0.8], "nice": false, "zero": false}},
       "shape": {"condition": {"test": "datum.g === 'Younger'", "value": "triangle-up"}, "value": "square"},
       "fill": {"condition": {"test": "datum.g === 'Younger'", "value": "#111"}, "value": "white"}}},
     {"data": {"values": [{"d": -16.09, "y": 0.3805, "txt": "(Left)"}, {"d": 0, "y": 0.3805, "txt": "(Center)"}, {"d": 15.95, "y": 0.3805, "txt": "(Right)"}]},
      "mark": {"type": "text", "fontSize": 21, "color": "#111", "baseline": "middle"},
      "encoding": {"x": {"field": "d", "type": "quantitative", "scale": {"domain": [-18.39, 18.79], "nice": false, "zero": false}, "axis": null},
       "y": {"field": "y", "type": "quantitative", "scale": {"domain": [0.351, 0.8], "nice": false, "zero": false}}, "text": {"field": "txt"}}}
    ]},
   {"width": 530, "height": 83.2, "resolve": {"axis": {"x": "independent"}},
    "layer": [
     {"data": {"values": [{"x1": -0.72, "x2": 0.41, "y1": 7.3, "y2": 9.15}]},
      "mark": {"type": "rect", "fill": "#b0b0b0", "stroke": "#444", "strokeWidth": 1},
      "encoding": {"x": {"field": "x1", "type": "quantitative", "scale": {"domain": [-18.39, 18.79], "nice": false, "zero": false}, "axis": {"orient": "top", "values": [-17.5,-16.5,-15.5,-14.5,-13.5,-12.5,-11.5,-10.5,-9.5,-8.5,-7.5,-6.5,-5.5,-4.5,-3.5,-2.5,-1.5,-0.5,0.5,1.5,2.5,3.5,4.5,5.5,6.5,7.5,8.5,9.5,10.5,11.5,12.5,13.5,14.5,15.5,16.5,17.5], "labels": false, "domain": false, "tickSize": -5, "tickWidth": 1.1, "title": null}},
       "x2": {"field": "x2"},
       "y": {"field": "y1", "type": "quantitative", "scale": {"domain": [-1.85, 9.15], "nice": false, "zero": false}, "axis": {"values": [0,2,4,6,8], "labels": false, "title": null}},
       "y2": {"field": "y2"}}},
     {"data": {"values": [{"t": 2}]}, "mark": {"type": "rule", "strokeDash": [5, 4], "color": "#222", "strokeWidth": 1.1},
      "encoding": {"y": {"field": "t", "type": "quantitative", "scale": {"domain": [-1.85, 9.15], "nice": false, "zero": false}}}},
     {"data": {"name": "tP"}, "mark": {"type": "line", "color": "#444", "strokeWidth": 1.3},
      "encoding": {"x": {"field": "d", "type": "quantitative", "scale": {"domain": [-18.39, 18.79], "nice": false, "zero": false}, "axis": null},
       "y": {"field": "t", "type": "quantitative", "scale": {"domain": [-1.85, 9.15], "nice": false, "zero": false}}}},
     {"data": {"name": "tP"}, "mark": {"type": "point", "filled": true, "color": "#111", "size": 22, "opacity": 1},
      "encoding": {"x": {"field": "d", "type": "quantitative", "scale": {"domain": [-18.39, 18.79], "nice": false, "zero": false}, "axis": {"orient": "bottom", "values": [-18,-12,-6,0,6,12,18], "ticks": false, "labelPadding": 2, "labelFlush": false, "title": "Distance (mm)", "titlePadding": 11}},
       "y": {"field": "t", "type": "quantitative", "scale": {"domain": [-1.85, 9.15], "nice": false, "zero": false}}}}
    ]}
  ]}
 ]
}
]
}
